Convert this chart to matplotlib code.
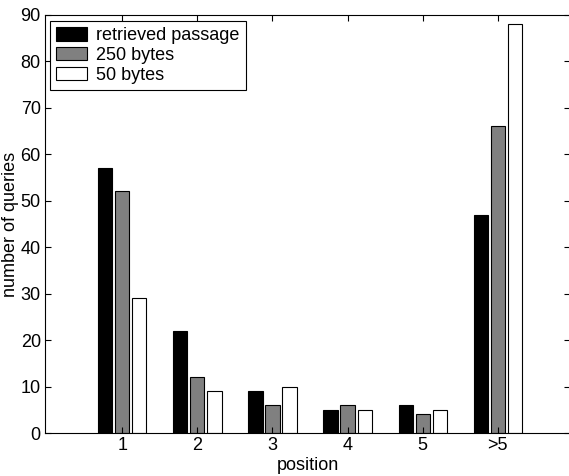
import matplotlib
matplotlib.use("Agg")
import matplotlib.pyplot as plt
import numpy as np

plt.rcParams['font.family'] = ['Liberation Sans', 'DejaVu Sans']

categories = ['1', '2', '3', '4', '5', '>5']
retrieved = [57, 22, 9, 5, 6, 47]
bytes250 = [52, 12, 6, 6, 4, 66]
bytes50 = [29, 9, 10, 5, 5, 88]
series_names = ['retrieved passage', '250 bytes', '50 bytes']
colors = ['#000000', '#808080', '#ffffff']

FS = 13
W, H = 569, 476
fig = plt.figure(figsize=(W/100, H/100), dpi=100)
l, r, t, b = 45, 570, 15, 433
ax = fig.add_axes([l/W, 1-b/H, (r-l)/W, (b-t)/H])

x = np.arange(1, len(categories)+1)
off = 0.227
wd = 0.19
for i, (vals, name, c) in enumerate(zip([retrieved, bytes250, bytes50], series_names, colors)):
    ax.bar(x + (i-1)*off, vals, width=wd, color=c, edgecolor='black', linewidth=0.8, label=name)

ax.set_xlim(-0.027, 6.96)
ax.set_ylim(0, 90)
ax.set_xticks(x)
ax.set_xticklabels(categories)
ax.set_yticks(np.arange(0, 91, 10))
ax.tick_params(direction='in', top=True, right=True, labelsize=FS, length=4, width=0.8, pad=3)
for s in ax.spines.values():
    s.set_linewidth(0.8)
ax.set_xlabel('position', fontsize=FS, labelpad=2)
ax.set_ylabel('number of queries', fontsize=FS, labelpad=1)

leg = ax.legend(loc='upper left', bbox_to_anchor=(5/(r-l), 1-6/(b-t)), borderaxespad=0,
                fancybox=False, edgecolor='black', framealpha=1, fontsize=FS,
                handlelength=1.7, handleheight=0.75, handletextpad=0.5, labelspacing=0.15,
                borderpad=0.35)
leg.get_frame().set_linewidth(0.8)

fig.savefig('out.png', dpi=100)
